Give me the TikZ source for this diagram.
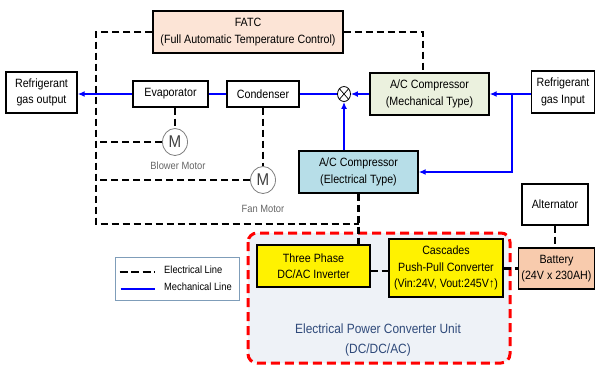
\documentclass[tikz,border=0pt]{standalone}
\usepackage{fontspec}
\setmainfont{Liberation Sans}[FakeStretch=0.89]
\usetikzlibrary{arrows.meta,calc,shapes.geometric}
\definecolor{fatcfill}{HTML}{FCE4D6}
\definecolor{mechfill}{HTML}{EBF1DE}
\definecolor{elecfill}{HTML}{B7DEE8}
\definecolor{batfill}{HTML}{F8CBAD}
\definecolor{unitfill}{HTML}{EEF2F7}
\definecolor{unittext}{HTML}{2F4A7A}
\definecolor{legendc}{HTML}{7F9DB9}
\begin{document}
\begin{tikzpicture}[x=1pt,y=-1pt,
  box/.style={draw=black, line width=1.4pt, align=center, inner sep=0pt,
    font=\fontsize{12}{16.5}\selectfont, text=black},
  eline/.style={line width=2.8pt, dash pattern=on 7pt off 4pt},
  mline/.style={draw=blue, line width=2pt},
  arr/.style={-{Latex[length=7pt,width=6pt]}},
  motor/.style={ellipse, draw=gray, line width=0.8pt, minimum width=25pt,
    minimum height=27pt, inner sep=0pt, fill=white, text=black!75,
    font=\fontsize{17}{17}\selectfont},
  mlabel/.style={text=black!60, font=\fontsize{10.5}{12}\selectfont}]
\useasboundingbox (0,0) rectangle (596,365);
\fill[white] (0,0) rectangle (596,365);

% unit region
\draw[red, line width=3pt, dash pattern=on 9pt off 5pt, rounded corners=9pt, fill=unitfill]
  (248,233) rectangle (510,363);
\node[text=unittext, align=center, font=\fontsize{13.4}{20}\selectfont] (unitl) at (378,340)
  {Electrical Power Converter Unit\\(DC/DC/AC)};

% boxes
\node[box, minimum width=190pt, minimum height=42pt, fill=fatcfill] (fatc) at (248,32)
  {FATC\\(Full Automatic Temperature Control)};
\node[box, minimum width=71pt, minimum height=41pt, fill=white] (out) at (41.5,92.5)
  {Refrigerant\\gas output};
\node[box, minimum width=75pt, minimum height=26pt, fill=white] (evap) at (170.5,94) {Evaporator};
\node[box, minimum width=72pt, minimum height=26pt, fill=white] (cond) at (263,94) {Condenser};
\node[ellipse, draw, line width=0.8pt, minimum width=13pt, minimum height=15pt, inner sep=0pt, fill=white]
  (valve) at (344,94) {};
\draw[line width=0.7pt] (valve.north west) -- (valve.south east) (valve.north east) -- (valve.south west);
\node[box, minimum width=119pt, minimum height=42pt, fill=mechfill] (mech) at (429.5,94)
  {A/C Compressor\\(Mechanical Type)};
\node[box, minimum width=63pt, minimum height=42pt, fill=white] (in) at (563,92)
  {Refrigerant\\gas Input};
\node[box, minimum width=119pt, minimum height=42pt, fill=elecfill] (elec) at (358.5,172)
  {A/C Compressor\\(Electrical Type)};
\node[motor] (blow) at (175,142) {M};
\node[mlabel] (blowl) at (178,166) {Blower Motor};
\node[motor] (fan) at (263,180) {M};
\node[mlabel] (fanl) at (263,209) {Fan Motor};
\node[box, minimum width=66pt, minimum height=41pt, fill=white] (alt) at (555,204.5) {Alternator};
\node[box, minimum width=76pt, minimum height=41pt, fill=batfill] (bat) at (556.5,268.5)
  {Battery\\(24V x 230AH)};
\node[box, minimum width=113pt, minimum height=42pt, fill=yellow] (inv) at (313.5,266)
  {Three Phase\\DC/AC Inverter};
\node[box, minimum width=114pt, minimum height=58pt, fill=yellow] (casc) at (446,268)
  {Cascades\\Push-Pull Converter\\(Vin:24V, Vout:245V↑)};

% legend
\node[draw=legendc, line width=0.8pt, minimum width=124pt, minimum height=43pt, fill=white] (legend) at (177,278.5) {};
\coordinate (le1) at ($(legend.west)+(5,-6.5)$);
\coordinate (le2) at ($(legend.west)+(40,-6.5)$);
\coordinate (lm1) at ($(legend.west)+(6,10.5)$);
\coordinate (lm2) at ($(legend.west)+(40,10.5)$);
\draw[eline, dash pattern=on 8pt off 3.5pt] (le1) -- (le2);
\draw[mline] (lm1) -- (lm2);
\node[anchor=west, font=\fontsize{10.5}{12}\selectfont, inner sep=0pt] (ltx1) at (164,270) {Electrical Line};
\node[anchor=west, font=\fontsize{10.5}{12}\selectfont, inner sep=0pt] (ltx2) at (164,287) {Mechanical Line};

% electrical lines
\coordinate (lt) at (96,32);
\coordinate (lb) at (96,224);
\coordinate (jn) at (358.5,224);
\coordinate (fr) at (423,32);
\draw[eline] (fatc.west) -- (lt) -- (lb) -- (jn);
\draw[eline] (elec.south) -- (elec.south |- inv.north);
\draw[eline] (fatc.east) -- (fr) -- (fr |- mech.north);
\draw[eline] (evap.south -| blow.north) -- (blow.north);
\draw[eline] (blow.west) -- (blow.west -| lt);
\draw[eline] (cond.south -| fan.north) -- (fan.north);
\draw[eline] (fan.west) -- (fan.west -| lt);
\draw[eline] ($(inv.east)+(0,5)$) -- ($(inv.east -| casc.west)+(0,5)$);
\draw[eline] (casc.east |- bat.west) -- (bat.west);
\draw[eline] (alt.south) -- (alt.south |- bat.north);

% mechanical lines
\draw[mline, arr] (evap.west) -- (evap.west -| out.east);
\draw[mline] (cond.west) -- (evap.east);
\draw[mline] (valve.west) -- (valve.west -| cond.east);
\draw[mline, arr] (mech.west) -- (valve.east);
\draw[mline, arr] (elec.north -| valve.south) -- (valve.south);
\draw[mline, arr] (in.west |- mech.east) -- (mech.east);
\coordinate (bj) at (512,94);
\draw[mline, arr] (bj) |- (elec.east);
\end{tikzpicture}
\end{document}
